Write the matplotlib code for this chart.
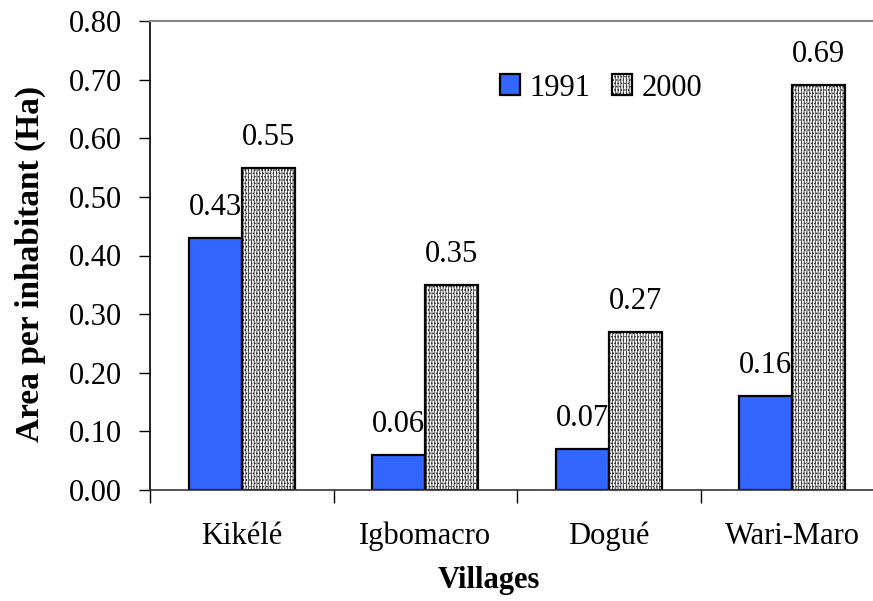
import matplotlib
matplotlib.use("Agg")
import matplotlib.pyplot as plt
import numpy as np

villages = ["Kikélé", "Igbomacro", "Dogué", "Wari-Maro"]
area_1991 = [0.43, 0.06, 0.07, 0.16]
area_2000 = [0.55, 0.35, 0.27, 0.69]
series_names = ["1991", "2000"]
y_ticks = [0.0, 0.1, 0.2, 0.3, 0.4, 0.5, 0.6, 0.7, 0.8]

plt.rcParams["font.family"] = ["Liberation Serif", "DejaVu Serif"]
plt.rcParams["hatch.linewidth"] = 0.6
FS = 22

W, H = 873, 601
fig = plt.figure(figsize=(W / 100, H / 100), dpi=100)
# plot area runs past the right edge of the canvas
ax = fig.add_axes([150 / W, (H - 490) / H, 734 / W, (490 - 21) / H])

x = np.arange(len(villages))
bw = 0.29
b1 = ax.bar(x - bw / 2, area_1991, bw, color="#3366ff", edgecolor="black",
            linewidth=1.6, label=series_names[0], zorder=2)
b2 = ax.bar(x + bw / 2, area_2000, bw, color="white", edgecolor="black",
            linewidth=1.6, hatch="||||||.....", label=series_names[1], zorder=2)
for rect in b2:
    rect._hatch_color = (0.2, 0.2, 0.2, 1.0)

for bars, vals in ((b1, area_1991), (b2, area_2000)):
    for rect, v in zip(bars, vals):
        ax.annotate(f"{v:.2f}", (rect.get_x() + rect.get_width() / 2, v),
                    xytext=(0, 16), textcoords="offset pixels",
                    ha="center", va="bottom", fontsize=FS)

ax.set_xlim(-0.5, len(villages) - 0.5)
ax.set_ylim(0, 0.8)
ax.set_yticks(y_ticks)
ax.set_yticklabels([f"{t:.2f}" for t in y_ticks], fontsize=FS)
ax.set_xticks(x)
ax.set_xticklabels(villages, fontsize=FS)
ax.set_xticks(np.arange(len(villages)) - 0.5, minor=True)
ax.tick_params(axis="x", which="major", length=0, pad=23)
ax.tick_params(axis="x", which="minor", length=9, direction="out", width=1)
ax.tick_params(axis="y", length=8, direction="out", width=1, pad=12)

ax.spines["left"].set_color("black")
ax.spines["left"].set_linewidth(1.2)
ax.spines["bottom"].set_color("#333333")
ax.spines["bottom"].set_linewidth(1.2)
ax.spines["top"].set_color("#888888")
ax.spines["top"].set_linewidth(1.5)
ax.spines["right"].set_visible(False)

ax.set_xlabel("Villages", fontsize=FS, fontweight="bold")
ax.xaxis.set_label_coords((489 - 150) / 734, -(566 - 490) / 469)
ax.set_ylabel("Area per inhabitant (Ha)", fontsize=24, fontweight="bold")
ax.yaxis.set_label_coords((46 - 150) / 734, (490 - 264) / 469)

ax.legend(loc="center", bbox_to_anchor=(601 / W, (H - 88) / H),
          bbox_transform=fig.transFigure, ncol=2, frameon=False, fontsize=FS,
          handlelength=0.66, handleheight=0.66, handletextpad=0.3,
          columnspacing=0.7, borderpad=0)

fig.savefig("out.png", dpi=100)
